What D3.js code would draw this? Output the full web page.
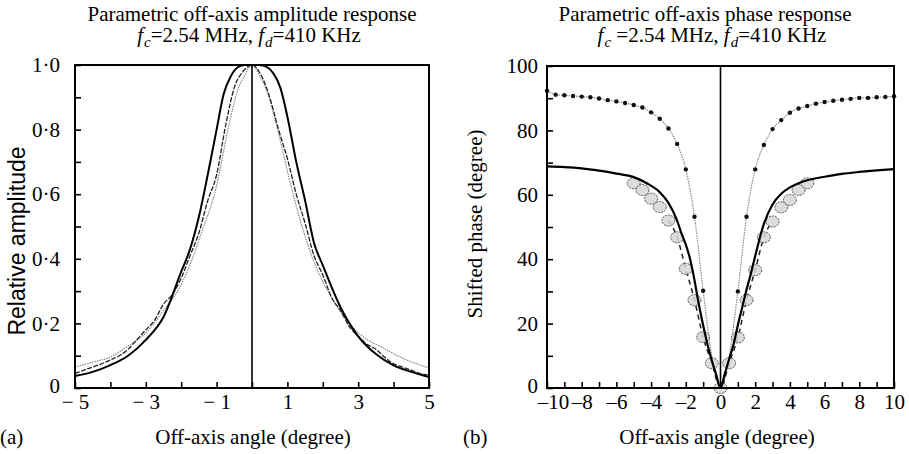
<!DOCTYPE html>
<html>
<head>
<meta charset="utf-8">
<script src="https://cdn.jsdelivr.net/npm/d3@7/dist/d3.min.js"></script>
<style>
  body { margin: 0; background: #fff; }
  text { font-family: "Liberation Serif", "Times New Roman", serif; font-size: 21px; fill: #000; }
</style>
</head>
<body>
<svg width="909" height="454"></svg>
<script>
/* global d3 */
// ---- (a) amplitude response ----
var ampTheoryX = [-5,-4.5,-4,-3.5,-3,-2.5,-2,-1.75,-1.5,-1.25,-1,-0.8,-0.6,-0.4,-0.2,0,0.2,0.4,0.6,0.8,1,1.25,1.5,1.75,2,2.5,3,3.5,4,4.5,5];
var ampTheoryY = [0.037,0.05,0.071,0.1,0.149,0.22,0.36,0.43,0.53,0.66,0.8,0.91,0.965,0.993,1,1,1,0.995,0.975,0.93,0.84,0.7,0.58,0.45,0.38,0.25,0.16,0.105,0.07,0.05,0.034];

var ampMeasX = [-5,-4.75,-4.5,-4.25,-4,-3.75,-3.5,-3.25,-3,-2.75,-2.5,-2.25,-2,-1.75,-1.5,-1.25,-1,-0.75,-0.5,-0.25,0,0.25,0.5,0.75,1,1.25,1.5,1.75,2,2.25,2.5,2.75,3,3.25,3.5,3.75,4,4.25,4.5,4.75,5];
var ampMeasY = [0.045,0.055,0.065,0.075,0.087,0.1,0.12,0.15,0.18,0.21,0.26,0.29,0.34,0.41,0.48,0.58,0.66,0.81,0.93,0.98,1,0.97,0.9,0.8,0.71,0.6,0.51,0.41,0.35,0.28,0.24,0.19,0.16,0.135,0.12,0.095,0.075,0.065,0.055,0.045,0.04];

var ampGreyX = [-5,-4.5,-4,-3.5,-3,-2.5,-2,-1.7,-1.4,-1.05,-0.66,-0.44,-0.2,0,0.2,0.45,0.7,1.15,1.73,2.3,2.75,3.25,3.6,4.3,5];
var ampGreyY = [0.065,0.08,0.096,0.13,0.17,0.24,0.32,0.396,0.49,0.604,0.81,0.91,0.97,1,0.97,0.91,0.81,0.604,0.396,0.27,0.2,0.15,0.13,0.09,0.062];

// ---- (b) phase response ----
var phTheoryX = [-10,-9,-8,-7,-6,-5,-4.25,-3.5,-3,-2.5,-2.25,-2,-1.75,-1.5,-1.25,-1,-0.75,-0.5,-0.25,0,0.25,0.5,0.75,1,1.25,1.5,1.75,2,2.5,3,3.5,4,4.5,5,6,7,8,9,10];
var phTheoryY = [68.8,68.6,68.2,67.5,66.6,65.5,63.6,60.8,57.5,52,48,44.5,40,33.5,26,19.5,13.5,8.5,4.2,0,4.5,9,13.5,19.5,25,30.5,35.5,41,51,57,60.3,62.3,63.6,64.5,65.6,66.5,67.1,67.6,68];

var phUpperX = [-10,-9.5,-9,-8.5,-8,-7.5,-7,-6.5,-6,-5.5,-5,-4.5,-4,-3.5,-3,-2.5,-2,-1.5,-1,-0.5,0,0.5,1,1.5,2,2.5,3,3.5,4,4.5,5,5.5,6,6.5,7,7.5,8,8.5,9,9.5,10];
var phUpperY = [92.3,91.1,90.9,90.7,90.5,90.3,89.9,89.4,89,88.5,87.9,87.1,85.6,83.6,80.6,75.8,67.9,53.2,30.2,10,0,10,30,53.2,67.9,75.5,80.4,83.2,85.5,86.8,87.6,88.3,88.8,89.2,89.5,89.8,90.1,90.1,90.3,90.4,90.6];

var phCircX = [-5,-4.5,-4,-3.5,-3,-2.5,-2,-1.5,-1,-0.5,0,0.5,1,1.5,2,2.5,3,3.5,4,4.5,5];
var phCircY = [63.6,61.5,58.8,56.2,52,46.8,37,27.3,15.8,7.7,0,7.7,15.7,27.3,36.6,46.8,51.7,56.1,58.4,61.5,63.6];

var svg = d3.select("svg");

function mathLabel(sel, x, y, pre) {
  var t = sel.append("text").attr("x", x).attr("y", y).attr("text-anchor", "middle");
  t.append("tspan").attr("font-style", "italic").text("f");
  t.append("tspan").attr("font-style", "italic").style("font-size", "15px").attr("dx", 1).attr("dy", 5).text("c");
  t.append("tspan").attr("dy", -5).text(pre + "=2.54 MHz, ");
  t.append("tspan").attr("font-style", "italic").text("f");
  t.append("tspan").attr("font-style", "italic").style("font-size", "15px").attr("dx", 1).attr("dy", 5).text("d");
  t.append("tspan").attr("dy", -5).text("=410 KHz");
}

function frame(g, x, y) {
  g.append("line")
    .attr("x1", x(0)).attr("x2", x(0))
    .attr("y1", y.range()[0]).attr("y2", y.range()[1])
    .attr("stroke", "#000").attr("stroke-width", 1.6);
  g.append("rect")
    .attr("x", x.range()[0]).attr("y", y.range()[1])
    .attr("width", x.range()[1] - x.range()[0])
    .attr("height", y.range()[0] - y.range()[1])
    .attr("fill", "none").attr("stroke", "#000").attr("stroke-width", 2);
}

// ================= panel (a) =================
var xA = d3.scaleLinear().domain([-5, 5]).range([75, 429]),
    yA = d3.scaleLinear().domain([0, 1]).range([388, 65]);

var gA = svg.append("g");

gA.append("g")
    .attr("transform", "translate(0," + yA(0) + ")")
    .call(d3.axisBottom(xA).tickValues(d3.range(-5, 6, 1)).tickSize(-6).tickSizeOuter(0).tickPadding(6)
      .tickFormat(function(d) {
        if (Math.abs(d) % 2 != 1) return "";
        return d < 0 ? "\u2212 " + (-d) : d;
      }))
    .call(function(a) { a.select(".domain").remove(); a.selectAll("line").attr("stroke-width", 1.6); });

gA.append("g")
    .attr("transform", "translate(" + xA(-5) + ",0)")
    .call(d3.axisLeft(yA).tickValues(d3.range(0, 11, 1).map(function(i) { return i / 10; })).tickSize(-6).tickSizeOuter(0).tickPadding(15)
      .tickFormat(function(d, i) {
        if (i % 2) return "";
        return d === 0 ? "0" : d3.format(".1f")(d).replace(".", "\u00b7");
      }))
    .call(function(a) {
      a.select(".domain").remove();
      a.selectAll("line").attr("stroke-width", 1.6);
      a.selectAll(".tick text").filter(function(d) { return d === 0; }).attr("dy", "0.2em");
    });

var lineA = d3.line().x(function(d) { return xA(d[0]); }).y(function(d) { return yA(d[1]); }).curve(d3.curveMonotoneX);

gA.append("path")
    .datum(d3.zip(ampGreyX, ampGreyY))
    .attr("d", lineA)
    .attr("fill", "none").attr("stroke", "#8a8a8a").attr("stroke-width", 1.2).attr("stroke-dasharray", "1.5,1");

gA.append("path")
    .datum(d3.zip(ampMeasX, ampMeasY))
    .attr("d", lineA)
    .attr("fill", "none").attr("stroke", "#222").attr("stroke-width", 1.3).attr("stroke-dasharray", "5,1.5");

gA.append("path")
    .datum(d3.zip(ampTheoryX, ampTheoryY))
    .attr("d", lineA)
    .attr("fill", "none").attr("stroke", "#000").attr("stroke-width", 2);

frame(gA, xA, yA);

gA.append("text").attr("x", 252).attr("y", 21).attr("text-anchor", "middle").text("Parametric off-axis amplitude response");
mathLabel(gA, 249, 42, "");
gA.append("text").attr("x", 253).attr("y", 444).attr("text-anchor", "middle").text("Off-axis angle (degree)");
gA.append("text").attr("x", 0).attr("y", 444).text("(a)");
gA.append("text")
    .attr("transform", "translate(25,241) rotate(-90)")
    .attr("text-anchor", "middle")
    .style("font-family", "'Liberation Sans', Arial, sans-serif")
    .style("font-size", "23px")
    .text("Relative amplitude");

// ================= panel (b) =================
var xB = d3.scaleLinear().domain([-10, 10]).range([547, 894]),
    yB = d3.scaleLinear().domain([0, 100]).range([388, 66]);

var gB = svg.append("g");

gB.append("g")
    .attr("transform", "translate(0," + yB(0) + ")")
    .call(d3.axisBottom(xB).tickValues(d3.range(-10, 11, 1)).tickSize(-6).tickSizeOuter(0).tickPadding(6)
      .tickFormat(function(d) {
        if (d % 2 != 0) return "";
        return d < 0 ? "\u2013" + (-d) : d;
      }))
    .call(function(a) {
      a.select(".domain").remove();
      a.selectAll("line").attr("stroke-width", 1.6);
      a.selectAll(".tick text").filter(function(d) { return d === -10; }).attr("dx", 6);
    });

gB.append("g")
    .attr("transform", "translate(" + xB(-10) + ",0)")
    .call(d3.axisLeft(yB).tickValues(d3.range(0, 101, 10)).tickSize(-6).tickSizeOuter(0).tickPadding(9)
      .tickFormat(function(d) { return d % 20 ? "" : d; }))
    .call(function(a) {
      a.select(".domain").remove();
      a.selectAll("line").attr("stroke-width", 1.6);
      a.selectAll(".tick text").filter(function(d) { return d === 0; }).attr("dy", "0.2em");
    });

var lineB = d3.line().x(function(d) { return xB(d[0]); }).y(function(d) { return yB(d[1]); }).curve(d3.curveMonotoneX);

var upper = d3.zip(phUpperX, phUpperY);
gB.append("path")
    .datum(upper)
    .attr("d", lineB)
    .attr("fill", "none").attr("stroke", "#8a8a8a").attr("stroke-width", 1.2).attr("stroke-dasharray", "1.5,1");
gB.append("g").selectAll("circle")
    .data(upper.filter(function(d) { return Math.abs(d[0]) >= 1; }))
    .enter().append("circle")
      .attr("cx", function(d) { return xB(d[0]); })
      .attr("cy", function(d) { return yB(d[1]); })
      .attr("r", 2.2)
      .attr("fill", "#111");

var circ = d3.zip(phCircX, phCircY);
gB.append("path")
    .datum(circ.filter(function(d) { return Math.abs(d[0]) <= 3; }))
    .attr("d", lineB)
    .attr("fill", "none").attr("stroke", "#222").attr("stroke-width", 1.5).attr("stroke-dasharray", "5,4");

gB.append("g").selectAll("ellipse")
    .data(circ)
    .enter().append("ellipse")
      .attr("cx", function(d) { return xB(d[0]); })
      .attr("cy", function(d) { return yB(d[1]); })
      .attr("rx", 6.5).attr("ry", 5.5)
      .attr("fill", "#d6d6d6").attr("fill-opacity", 0.85)
      .attr("stroke", "#444").attr("stroke-width", 0.9).attr("stroke-dasharray", "2,1");

gB.append("path")
    .datum(d3.zip(phTheoryX, phTheoryY))
    .attr("d", lineB)
    .attr("fill", "none").attr("stroke", "#000").attr("stroke-width", 2.2);

frame(gB, xB, yB);

gB.append("text").attr("x", 705).attr("y", 21).attr("text-anchor", "middle").text("Parametric off-axis phase response");
mathLabel(gB, 712, 42, " ");
gB.append("text").attr("x", 717).attr("y", 444).attr("text-anchor", "middle").text("Off-axis angle (degree)");
gB.append("text").attr("x", 463).attr("y", 444).text("(b)");
gB.append("text")
    .attr("transform", "translate(482,224) rotate(-90)")
    .attr("text-anchor", "middle")
    .text("Shifted phase (degree)");
</script>
</body>
</html>
